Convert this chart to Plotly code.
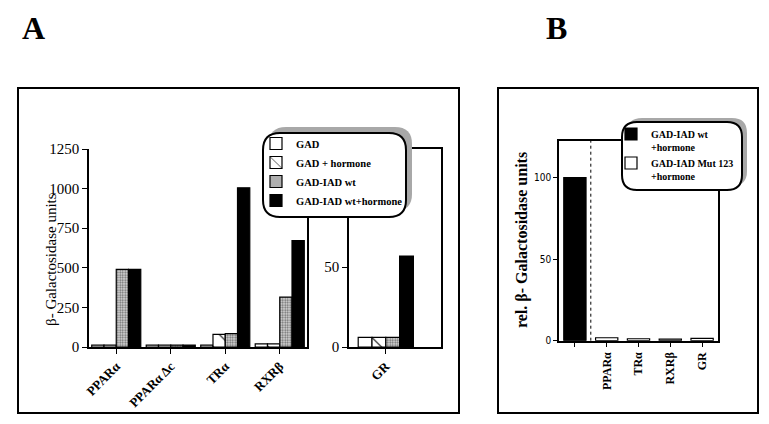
import plotly.graph_objects as go

# page body has an 8px margin; the figure is sized to fit inside it
OFF = 8
W, H = 769 - 2 * OFF, 424 - 2 * OFF


def px(x):
    return (x - OFF) / W


def py(y):
    return 1 - (y - OFF) / H


# ---------------- data ----------------
categories_a = ["PPARα", "PPARα Δc", "TRα", "RXRβ"]
category_gr = ["GR"]
# values: PPARα, PPARα Δc, TRα, RXRβ, GR
gad = [12, 12, 12, 20, 6]
gad_hormone = [12, 12, 80, 20, 6]
gad_iad_wt = [490, 12, 85, 315, 6]
gad_iad_wt_hormone = [490, 12, 1005, 672, 57]

yticks_a = [0, 250, 500, 750, 1000, 1250]
yticks_gr = [0, 50]

categories_b = ["wt", "PPARα", "TRα", "RXRβ", "GR"]
tick_labels_b = ["", "PPARα", "TRα", "RXRβ", "GR"]
rel_wt_hormone = [100, None, None, None, None]
rel_mut123_hormone = [None, 1.8, 1.2, 1.0, 1.4]
yticks_b = [0, 50, 100]

series_names_a = ["GAD", "GAD + hormone", "GAD-IAD wt", "GAD-IAD wt+hormone"]
series_values_a = [gad, gad_hormone, gad_iad_wt, gad_iad_wt_hormone]

# ---------------- styles ----------------
SERIF = "Liberation Serif, Times New Roman, serif"
line_style = dict(color="black", width=1.2)
styles_a = [
    dict(color="white"),
    dict(color="white", pattern=dict(shape="\\", fgcolor="black", bgcolor="white", size=13, solidity=0.08)),
    dict(color="#cccccc", pattern=dict(shape=".", fgcolor="#6a6a6a", bgcolor="#dcdcdc", size=2.5, solidity=0.45)),
    dict(color="black"),
]

fig = go.Figure()

w_a = 0.225
offs_a = [-0.45, -0.225, 0.0, 0.225]
w_gr = 0.15
offs_gr = [-0.3, -0.15, 0.0, 0.15]

for i, (name, vals) in enumerate(zip(series_names_a, series_values_a)):
    st = styles_a[i]
    marker = dict(color=st["color"], line=line_style)
    if "pattern" in st:
        marker["pattern"] = st["pattern"]
    fig.add_trace(go.Bar(
        x=categories_a, y=vals[:4], name=name, marker=marker,
        width=w_a, offset=offs_a[i], xaxis="x", yaxis="y",
        legend="legend", showlegend=True,
    ))
    fig.add_trace(go.Bar(
        x=category_gr, y=vals[4:], name=name, marker=marker,
        width=w_gr, offset=offs_gr[i], xaxis="x2", yaxis="y2",
        showlegend=False,
    ))

fig.add_trace(go.Bar(
    x=categories_b, y=rel_wt_hormone, name="GAD-IAD wt<br>+hormone",
    marker=dict(color="black", line=line_style), width=0.7, offset=-0.35,
    xaxis="x3", yaxis="y3", legend="legend2",
))
fig.add_trace(go.Bar(
    x=categories_b, y=rel_mut123_hormone, name="GAD-IAD Mut 123<br>+hormone",
    marker=dict(color="white", line=line_style), width=0.7, offset=-0.35,
    xaxis="x3", yaxis="y3", legend="legend2",
))

ax_common = dict(showline=True, linecolor="black", linewidth=1.5, ticks="outside",
                 ticklen=5, tickwidth=1.2, tickcolor="black", showgrid=False, zeroline=False,
                 automargin=False)

y_bot_a, y_top_a = 347, 149

fig.update_layout(
    template="none",
    width=W, height=H, autosize=False, margin=dict(l=0, r=0, t=0, b=0, pad=0),
    paper_bgcolor="white", plot_bgcolor="rgba(0,0,0,0)",
    barmode="overlay", font=dict(family=SERIF, color="black"),
    xaxis=dict(ax_common, domain=[px(89), px(307)], anchor="y", type="category",
               categoryorder="array", categoryarray=categories_a,
               tickangle=-45, tickfont=dict(family=SERIF, size=13, weight="bold")),
    yaxis=dict(ax_common, domain=[py(y_bot_a), py(y_top_a)], anchor="x", range=[0, 1250],
               tickvals=yticks_a, mirror=True, tickfont=dict(family=SERIF, size=15)),
    xaxis2=dict(ax_common, domain=[px(349), px(441)], anchor="y2", type="category",
                range=[-0.4, 0.6], mirror=True,
                tickangle=-45, tickfont=dict(family=SERIF, size=13, weight="bold")),
    yaxis2=dict(ax_common, domain=[py(y_bot_a), py(y_top_a)], anchor="x2", range=[0, 124],
                tickvals=yticks_gr, mirror=True, tickfont=dict(family=SERIF, size=15)),
    xaxis3=dict(ax_common, domain=[px(559), px(718)], anchor="y3", type="category",
                categoryorder="array", categoryarray=categories_b,
                tickmode="array", tickvals=categories_b, ticktext=tick_labels_b,
                tickangle=-90, mirror=True,
                tickfont=dict(family=SERIF, size=12, weight="bold")),
    yaxis3=dict(ax_common, domain=[py(340.7), py(141)], anchor="x3", range=[0, 122.5],
                tickvals=yticks_b, mirror=True, ticklen=4,
                tickfont=dict(family="Liberation Sans Narrow, DejaVu Sans Condensed, sans-serif", size=10)),
    legend=dict(x=px(256), y=py(129), xanchor="left", yanchor="top",
                bgcolor="rgba(0,0,0,0)", borderwidth=0, traceorder="normal",
                font=dict(family=SERIF, size=10.5, weight="bold", color="black")),
    legend2=dict(x=px(611), y=py(121), xanchor="left", yanchor="top", valign="top",
                 bgcolor="rgba(0,0,0,0)", borderwidth=0, traceorder="normal",
                 font=dict(family=SERIF, size=10, weight="bold", color="black")),
)


def rrect(x0, y0, x1, y1, r):
    pts = [
        ("M", [(x0 + r, y0)]), ("L", [(x1 - r, y0)]), ("Q", [(x1, y0), (x1, y0 + r)]),
        ("L", [(x1, y1 - r)]), ("Q", [(x1, y1), (x1 - r, y1)]), ("L", [(x0 + r, y1)]),
        ("Q", [(x0, y1), (x0, y1 - r)]), ("L", [(x0, y0 + r)]), ("Q", [(x0, y0), (x0 + r, y0)]),
    ]
    s = ""
    for cmd, ps in pts:
        s += cmd + " ".join(f"{px(a):.5f},{py(b):.5f}" for a, b in ps) + " "
    return s + "Z"


shapes = [
    # outer panel boxes
    dict(type="rect", xref="paper", yref="paper", x0=px(18), x1=px(459), y0=py(413), y1=py(88),
         line=dict(color="black", width=2), layer="below"),
    dict(type="rect", xref="paper", yref="paper", x0=px(498), x1=px(758), y0=py(413), y1=py(88),
         line=dict(color="black", width=2), layer="below"),
    # dotted separator in B
    dict(type="line", xref="x3", yref="y3 domain", x0=0.5, x1=0.5, y0=0, y1=1,
         line=dict(color="black", width=1, dash="dot"), layer="above"),
    # legend A box with shadow
    dict(type="path", xref="paper", yref="paper", path=rrect(269, 127, 412, 211, 17),
         fillcolor="#a8a8a8", line=dict(width=0), layer="above"),
    dict(type="path", xref="paper", yref="paper", path=rrect(263, 133, 406, 217, 17),
         fillcolor="white", line=dict(color="black", width=2), layer="above"),
    # legend B box with shadow
    dict(type="path", xref="paper", yref="paper", path=rrect(627, 118, 747, 186, 15),
         fillcolor="#a8a8a8", line=dict(width=0), layer="above"),
    dict(type="path", xref="paper", yref="paper", path=rrect(622, 122, 742, 190, 15),
         fillcolor="white", line=dict(color="black", width=2), layer="above"),
]
fig.update_layout(shapes=shapes)

annotations = [
    dict(text="<b>A</b>", x=px(20), y=py(8), xanchor="left", yanchor="top",
         font=dict(family=SERIF, size=32)),
    dict(text="<b>B</b>", x=px(544), y=py(8), xanchor="left", yanchor="top",
         font=dict(family=SERIF, size=32)),
    dict(text="β- Galactosidase units", x=px(41), y=py(260), textangle=-90,
         font=dict(family=SERIF, size=15)),
    dict(text="<b>rel. β- Galactosidase units</b>", x=px(533), y=py(240), textangle=-90,
         font=dict(family=SERIF, size=16)),
]
for a in annotations:
    a.update(xref="paper", yref="paper", showarrow=False)
fig.update_layout(annotations=annotations)

fig.write_html("out.html")
